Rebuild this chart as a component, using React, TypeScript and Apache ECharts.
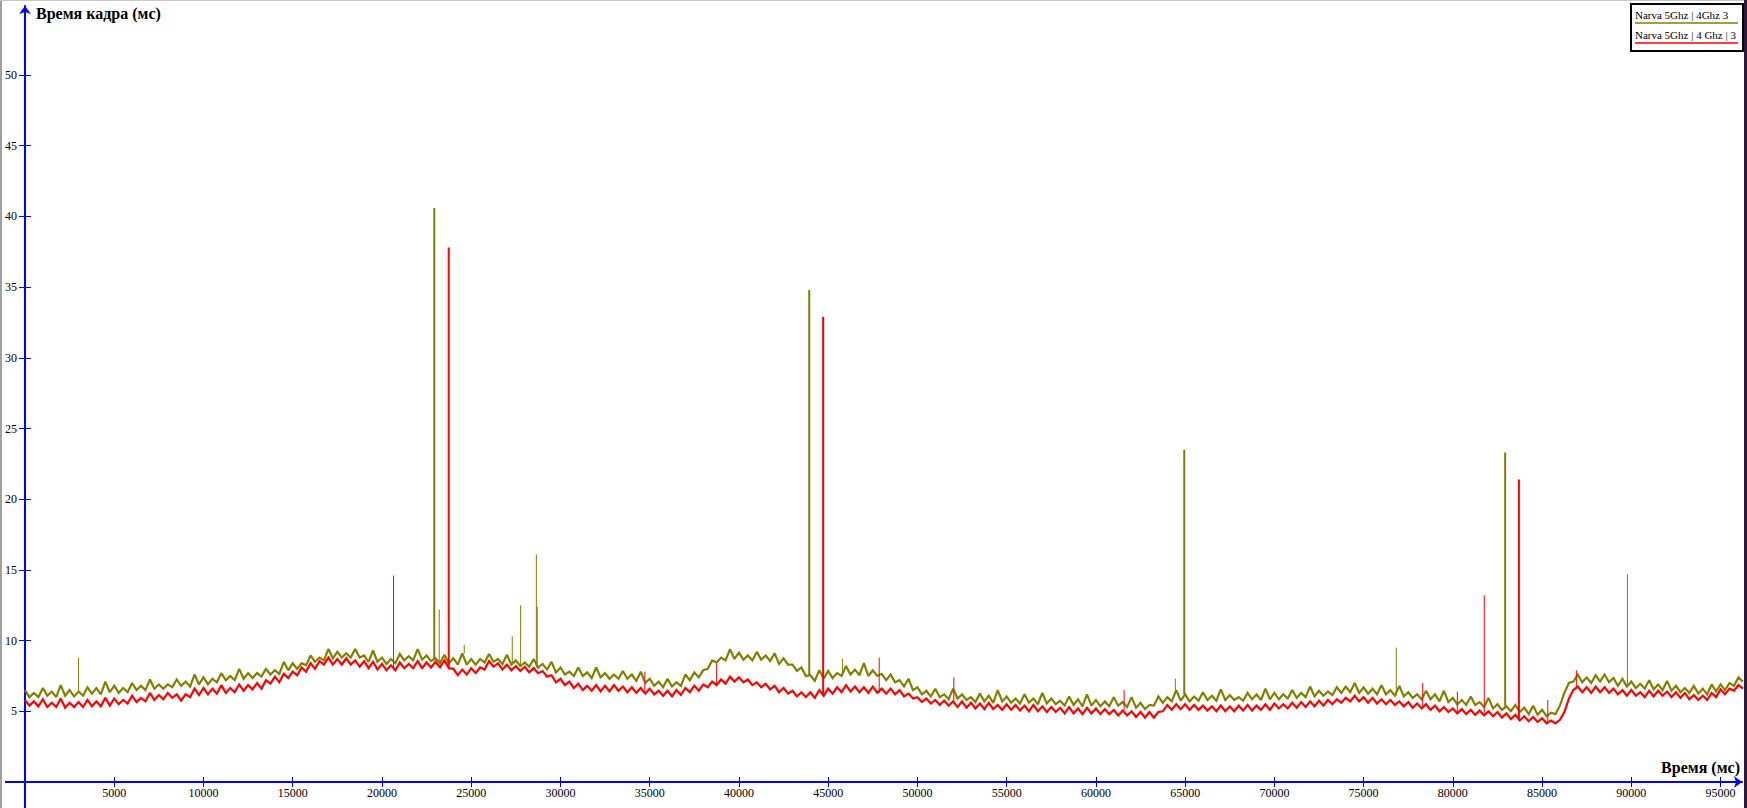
import React, { useEffect, useRef } from "react";
import * as echarts from "echarts";

// sampling step of the value arrays (ms)
const STEP_MS = 250;

// Olive series: "Narva 5Ghz | 4Ghz 3" (10 s per array, 250 ms per value)
const olive00 = [6.5, 6.0, 6.3, 6.0, 6.65, 6.1, 6.4, 6.0, 6.85, 6.1, 6.5, 6.05, 6.4, 6.1, 6.7, 6.25, 6.65, 6.2, 7.1, 6.35,
  6.8, 6.3, 6.65, 6.35, 7.0, 6.5, 6.8, 6.5, 7.25, 6.6, 6.9, 6.6, 6.9, 6.7, 7.25, 6.8, 7.1, 6.75, 7.6, 6.9];
const olive10 = [7.4, 6.9, 7.3, 7.05, 7.7, 7.2, 7.5, 7.2, 8.0, 7.3, 7.7, 7.35, 7.7, 7.45, 8.0, 7.6, 7.9, 7.65, 8.5, 7.9,
  8.4, 8.0, 8.4, 8.25, 8.95, 8.5, 8.8, 8.6, 9.4, 8.75, 9.2, 8.8, 9.1, 8.8, 9.4, 8.8, 8.95, 8.5, 9.3, 8.5];
const olive20 = [8.8, 8.35, 8.7, 8.4, 9.05, 8.6, 8.9, 8.6, 9.4, 8.65, 8.95, 8.55, 8.75, 8.4, 9.0, 8.4, 8.75, 8.3, 9.1, 8.3,
  8.7, 8.3, 8.7, 8.45, 9.05, 8.5, 8.7, 8.35, 9.0, 8.3, 8.6, 8.2, 8.45, 8.15, 8.7, 8.1, 8.35, 7.95, 8.5, 7.75];
const olive30 = [8.1, 7.6, 7.8, 7.5, 8.1, 7.5, 7.75, 7.35, 8.1, 7.4, 7.7, 7.3, 7.6, 7.3, 7.85, 7.3, 7.6, 7.15, 7.8, 7.0,
  7.3, 6.8, 7.1, 6.7, 7.3, 6.75, 7.05, 6.8, 7.6, 7.2, 7.75, 7.4, 7.9, 8.0, 8.6, 8.45, 8.8, 8.6, 9.4, 8.7];
const olive40 = [9.15, 8.65, 8.95, 8.6, 9.2, 8.65, 8.95, 8.55, 9.1, 8.35, 8.75, 8.3, 8.3, 7.85, 8.1, 7.5, 7.55, 7.15, 7.9, 7.3,
  7.85, 7.35, 7.7, 7.5, 8.2, 7.6, 7.95, 7.55, 8.4, 7.5, 7.9, 7.5, 7.65, 7.2, 7.6, 7.05, 7.2, 6.75, 7.3, 6.5];
const olive50 = [6.7, 6.2, 6.45, 6.05, 6.6, 6.0, 6.2, 5.85, 6.6, 5.9, 6.2, 5.8, 6.0, 5.65, 6.25, 5.7, 6.1, 5.6, 6.5, 5.7,
  6.05, 5.6, 5.9, 5.55, 6.2, 5.6, 5.9, 5.5, 6.3, 5.55, 5.9, 5.5, 5.75, 5.4, 6.05, 5.45, 5.85, 5.35, 6.2, 5.4];
const olive60 = [5.8, 5.35, 5.7, 5.35, 6.0, 5.4, 5.65, 5.3, 6.0, 5.25, 5.6, 5.15, 5.45, 5.4, 6.05, 5.6, 6.0, 5.7, 6.5, 5.75,
  6.2, 5.7, 6.05, 5.75, 6.35, 5.8, 6.1, 5.75, 6.55, 5.8, 6.15, 5.8, 6.0, 5.75, 6.3, 5.85, 6.2, 5.8, 6.6, 5.85];
const olive70 = [6.3, 5.85, 6.2, 5.9, 6.5, 5.95, 6.3, 6.0, 6.75, 6.05, 6.45, 6.1, 6.4, 6.15, 6.7, 6.3, 6.75, 6.35, 7.0, 6.3,
  6.7, 6.25, 6.6, 6.2, 6.85, 6.2, 6.5, 6.1, 6.8, 6.05, 6.35, 5.95, 6.2, 5.85, 6.45, 5.85, 6.2, 5.7, 6.45, 5.65];
const olive80 = [5.95, 5.5, 5.8, 5.45, 6.05, 5.45, 5.65, 5.3, 5.95, 5.2, 5.5, 5.1, 5.35, 5.0, 5.45, 4.95, 5.25, 4.8, 5.4, 4.75,
  5.1, 4.65, 4.9, 4.8, 5.4, 6.3, 7.0, 7.1, 7.6, 7.05, 7.4, 7.0, 7.55, 7.1, 7.6, 7.05, 7.35, 6.8, 7.3, 6.75];
const olive90 = [7.1, 6.65, 6.95, 6.6, 7.2, 6.55, 6.9, 6.5, 7.15, 6.45, 6.8, 6.35, 6.65, 6.3, 6.8, 6.25, 6.6, 6.2, 6.9, 6.4,
  6.9, 6.5, 7.0, 6.8, 7.4, 7.1];

// Red series: "Narva 5Ghz | 4 Ghz | 3"
const red00 = [5.8, 5.4, 5.7, 5.35, 5.85, 5.3, 5.6, 5.3, 5.9, 5.25, 5.6, 5.3, 5.65, 5.3, 5.8, 5.35, 5.7, 5.35, 5.95, 5.4,
  5.9, 5.5, 5.8, 5.55, 6.1, 5.65, 5.95, 5.7, 6.3, 5.8, 6.15, 5.85, 6.3, 5.95, 6.2, 5.75, 6.2, 6.0, 6.6, 6.15];
const red10 = [6.65, 6.2, 6.6, 6.25, 6.85, 6.3, 6.65, 6.35, 6.9, 6.45, 6.85, 6.55, 7.0, 6.6, 7.2, 6.95, 7.45, 7.05, 7.65, 7.35,
  7.8, 7.55, 8.1, 7.8, 8.4, 8.0, 8.55, 8.3, 8.8, 8.3, 8.7, 8.3, 8.75, 8.3, 8.6, 8.15, 8.55, 8.05, 8.5, 7.95];
const red20 = [8.35, 7.9, 8.25, 7.9, 8.45, 8.05, 8.35, 8.05, 8.55, 8.05, 8.45, 8.1, 8.5, 8.1, 8.6, 8.05, 8.0, 7.55, 7.95, 7.6,
  8.05, 7.7, 8.1, 7.95, 8.55, 8.15, 8.4, 7.95, 8.3, 7.9, 8.2, 7.85, 8.15, 7.75, 8.05, 7.7, 7.85, 7.45, 7.55, 7.05];
const red30 = [7.3, 6.85, 7.1, 6.65, 6.95, 6.5, 6.8, 6.45, 6.85, 6.4, 6.8, 6.4, 6.85, 6.45, 6.75, 6.35, 6.7, 6.3, 6.65, 6.25,
  6.6, 6.2, 6.45, 6.1, 6.45, 6.05, 6.5, 6.15, 6.65, 6.35, 6.8, 6.45, 6.9, 6.7, 7.1, 6.85, 7.25, 6.95, 7.45, 7.1];
const red40 = [7.4, 7.05, 7.25, 6.85, 7.05, 6.7, 6.95, 6.55, 6.8, 6.35, 6.65, 6.25, 6.45, 6.05, 6.35, 6.0, 6.35, 5.95, 6.5, 6.1,
  6.6, 6.25, 6.7, 6.35, 6.85, 6.4, 6.75, 6.35, 6.7, 6.3, 6.75, 6.3, 6.6, 6.25, 6.6, 6.2, 6.5, 6.05, 6.25, 5.9];
const red50 = [6.0, 5.65, 5.9, 5.55, 5.8, 5.45, 5.75, 5.4, 5.7, 5.3, 5.7, 5.25, 5.6, 5.2, 5.55, 5.15, 5.6, 5.15, 5.45, 5.1,
  5.5, 5.1, 5.45, 5.05, 5.4, 5.0, 5.45, 5.0, 5.35, 4.95, 5.3, 4.95, 5.25, 4.85, 5.3, 4.85, 5.2, 4.8, 5.25, 4.85];
const red60 = [5.2, 4.8, 5.15, 4.8, 5.1, 4.7, 5.05, 4.7, 5.0, 4.6, 4.95, 4.55, 4.95, 4.55, 4.95, 5.0, 5.45, 5.1, 5.5, 5.15,
  5.5, 5.1, 5.45, 5.1, 5.4, 5.05, 5.35, 5.0, 5.4, 5.0, 5.35, 5.0, 5.4, 5.05, 5.45, 5.05, 5.4, 5.1, 5.5, 5.1];
const red70 = [5.55, 5.2, 5.5, 5.2, 5.6, 5.25, 5.65, 5.3, 5.7, 5.35, 5.75, 5.4, 5.8, 5.5, 5.85, 5.6, 5.95, 5.7, 6.1, 5.7,
  6.0, 5.6, 5.95, 5.55, 5.85, 5.5, 5.8, 5.45, 5.7, 5.35, 5.65, 5.25, 5.55, 5.2, 5.5, 5.1, 5.4, 5.0, 5.3, 4.95];
const red80 = [5.2, 4.85, 5.15, 4.8, 5.1, 4.75, 5.05, 4.7, 5.0, 4.65, 4.95, 4.55, 4.85, 4.45, 4.75, 4.35, 4.65, 4.3, 4.6, 4.25,
  4.5, 4.15, 4.35, 4.15, 4.4, 4.95, 5.9, 6.5, 6.75, 6.35, 6.7, 6.3, 6.75, 6.35, 6.7, 6.3, 6.6, 6.2, 6.5, 6.1];
const red90 = [6.5, 6.1, 6.35, 6.0, 6.45, 6.05, 6.45, 6.1, 6.4, 6.0, 6.35, 5.95, 6.3, 5.85, 6.15, 5.8, 6.1, 5.8, 6.3, 6.0,
  6.55, 6.2, 6.6, 6.45, 6.85, 6.6];

// single-frame spikes: [time ms, frame time ms]
const oliveSpikes: [number, number][] = [
  [3000, 8.8], [22930, 40.6], [23210, 12.2], [24610, 9.7], [27300, 10.3], [27770, 12.5],
  [28650, 16.1], [28700, 12.4], [43940, 34.8], [45800, 8.7], [64450, 7.3], [64950, 23.5],
  [76830, 9.5], [82930, 23.3], [89780, 14.7],
];
const redSpikes: [number, number][] = [
  [20650, 14.6], [23740, 37.8], [34730, 7.8], [38750, 8.4], [44720, 32.9], [47860, 8.8],
  [52040, 7.4], [61580, 6.5], [78310, 7.0], [80250, 6.4], [81760, 13.2], [83700, 21.4],
  [85320, 5.8], [86920, 7.9],
];

const xTicks = [5000, 10000, 15000, 20000, 25000, 30000, 35000, 40000, 45000, 50000,
  55000, 60000, 65000, 70000, 75000, 80000, 85000, 90000, 95000];
const yTicks = [5, 10, 15, 20, 25, 30, 35, 40, 45, 50];
const seriesNames = ["Narva 5Ghz | 4Ghz 3", "Narva 5Ghz | 4 Ghz | 3"];
const yTitle = "Время кадра (мс)";
const xTitle = "Время (мс)";

const olive = [...olive00, ...olive10, ...olive20, ...olive30, ...olive40, ...olive50, ...olive60, ...olive70, ...olive80, ...olive90];
const red = [...red00, ...red10, ...red20, ...red30, ...red40, ...red50, ...red60, ...red70, ...red80, ...red90];

const BLUE = "#0000ff";
const OLIVE = "#808000";
const RED = "#ff0000";
const FONT = '"Liberation Serif", "Times New Roman", serif';

function toLine(vals: number[]) {
  return vals.map((v, i) => [i * STEP_MS, v]);
}

function toSpikes(spikes: [number, number][], vals: number[], thick: boolean) {
  const out: any[] = [];
  for (const [t, p] of spikes) {
    if ((p >= 20) !== thick) continue;
    const base = vals[Math.min(vals.length - 1, Math.round(t / STEP_MS))];
    out.push([t, base], [t, p], [t, "-"]);
  }
  return out;
}

export default function App() {
  const ref = useRef<HTMLDivElement>(null);
  useEffect(() => {
    if (!ref.current) return;
    const chart = echarts.init(ref.current, undefined, { renderer: "svg" });
    const xMax = 96200;
    const yMax = 54.88;
    const lineSeries = (data: any[], color: string, width: number, z: number) => ({
      type: "line",
      data,
      symbol: "none",
      silent: true,
      connectNulls: false,
      lineStyle: { color, width, join: "miter", miterLimit: 2 },
      itemStyle: { color },
      z,
    });
    chart.setOption({
      animation: false,
      backgroundColor: "#ffffff",
      grid: { left: 25, right: 5, top: 6, bottom: 26, containLabel: false },
      xAxis: [
        {
          type: "value", min: 0, max: xMax, interval: 5000, position: "bottom",
          axisLine: { show: true, onZero: false, lineStyle: { color: BLUE, width: 2 }, symbol: ["none", "arrow"], symbolSize: [9, 8] },
          axisTick: { show: true, customValues: xTicks, length: 5, lineStyle: { color: BLUE, width: 1 } },
          axisLabel: { customValues: xTicks, color: "#000", fontFamily: FONT, fontSize: 12, margin: 5, formatter: (v: number) => String(v) },
          splitLine: { show: false },
        },
        {
          type: "value", min: 0, max: xMax, interval: 5000, position: "bottom",
          axisLine: { show: false, onZero: false },
          axisTick: { show: true, inside: true, customValues: xTicks, length: 5, lineStyle: { color: BLUE, width: 1 } },
          axisLabel: { show: false },
          splitLine: { show: false },
        },
      ],
      yAxis: [
        {
          type: "value", min: 0, max: yMax, interval: 5, position: "left",
          axisLine: { show: true, onZero: false, lineStyle: { color: BLUE, width: 2 }, symbol: ["none", "arrow"], symbolSize: [9, 8] },
          axisTick: { show: true, customValues: yTicks, length: 6, lineStyle: { color: BLUE, width: 1 } },
          axisLabel: { customValues: yTicks, color: "#000", fontFamily: FONT, fontSize: 12, margin: 8, formatter: (v: number) => String(v) },
          splitLine: { show: false },
        },
        {
          type: "value", min: 0, max: yMax, interval: 5, position: "left",
          axisLine: { show: false, onZero: false },
          axisTick: { show: true, inside: true, customValues: yTicks, length: 6, lineStyle: { color: BLUE, width: 1 } },
          axisLabel: { show: false },
          splitLine: { show: false },
        },
      ],
      series: [
        { name: seriesNames[0], ...lineSeries(toLine(olive), OLIVE, 2.2, 2) },
        { name: seriesNames[0] + " spikes", ...lineSeries(toSpikes(oliveSpikes, olive, false), OLIVE, 1, 2) },
        { name: seriesNames[0] + " peaks", ...lineSeries(toSpikes(oliveSpikes, olive, true), OLIVE, 2, 2) },
        { name: seriesNames[1], ...lineSeries(toLine(red), RED, 2.2, 3) },
        { name: seriesNames[1] + " spikes", ...lineSeries(toSpikes(redSpikes, red, false), RED, 1, 3) },
        { name: seriesNames[1] + " peaks", ...lineSeries(toSpikes(redSpikes, red, true), RED, 2, 3) },
      ],
      graphic: [
        { type: "rect", silent: true, z: 50, shape: { x: 0, y: 0, width: 2, height: 808 }, style: { fill: "#a0a0a0" } },
        { type: "rect", silent: true, z: 50, shape: { x: 0, y: 0, width: 1747, height: 1 }, style: { fill: "#c8c8c8" } },
        { type: "rect", silent: true, z: 50, shape: { x: 1744, y: 0, width: 3, height: 808 }, style: { fill: "#2a1a38" } },
        { type: "line", silent: true, z: 50, shape: { x1: 5, y1: 782, x2: 25, y2: 782 }, style: { stroke: BLUE, lineWidth: 2 } },
        { type: "line", silent: true, z: 50, shape: { x1: 25, y1: 782, x2: 25, y2: 808 }, style: { stroke: BLUE, lineWidth: 2 } },
        {
          type: "text", silent: true, z: 50, x: 36, y: 13,
          style: { text: yTitle, font: `bold 16px ${FONT}`, fill: "#000", textAlign: "left", textVerticalAlign: "middle", align: "left", verticalAlign: "middle" },
        },
        {
          type: "text", silent: true, z: 50, x: 1740, y: 767,
          style: { text: xTitle, font: `bold 16px ${FONT}`, fill: "#000", textAlign: "right", textVerticalAlign: "middle", align: "right", verticalAlign: "middle" },
        },
        { type: "rect", silent: true, z: 60, shape: { x: 1631, y: 4, width: 112, height: 47 }, style: { fill: "#ffffff", stroke: "#000", lineWidth: 2 } },
        {
          type: "text", silent: true, z: 61, x: 1635, y: 15,
          style: { text: seriesNames[0], font: `11px ${FONT}`, fill: "#000", textAlign: "left", textVerticalAlign: "middle", align: "left", verticalAlign: "middle" },
        },
        { type: "line", silent: true, z: 61, shape: { x1: 1635, y1: 23, x2: 1738, y2: 23 }, style: { stroke: OLIVE, lineWidth: 1.5 } },
        {
          type: "text", silent: true, z: 61, x: 1635, y: 35,
          style: { text: seriesNames[1], font: `11px ${FONT}`, fill: "#000", textAlign: "left", textVerticalAlign: "middle", align: "left", verticalAlign: "middle" },
        },
        { type: "line", silent: true, z: 61, shape: { x1: 1635, y1: 43, x2: 1738, y2: 43 }, style: { stroke: RED, lineWidth: 1.5 } },
      ],
    });
    return () => chart.dispose();
  }, []);
  return <div ref={ref} style={{ position: "fixed", left: 0, top: 0, width: 1747, height: 808, background: "#fff" }} />;
}
